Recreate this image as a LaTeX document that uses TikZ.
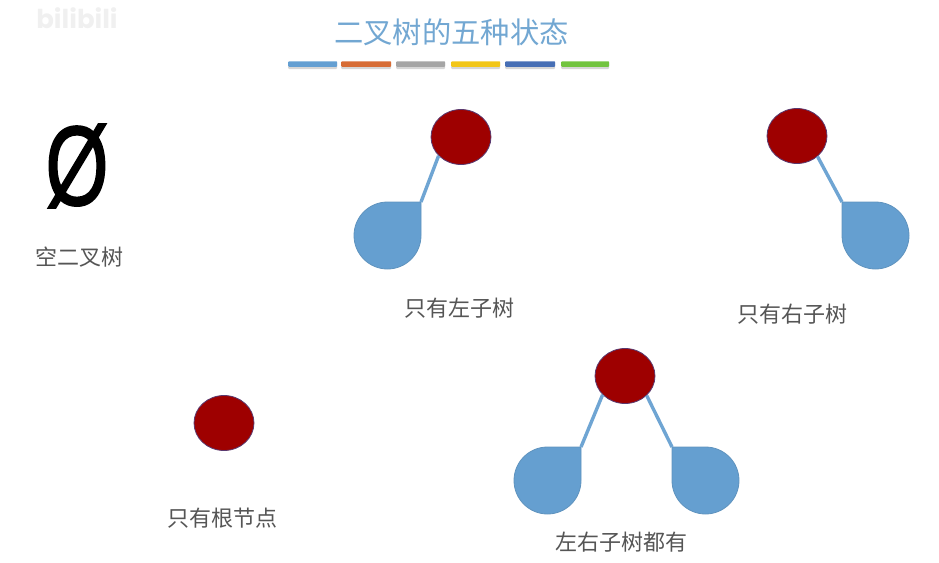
\documentclass[tikz,border=0pt]{standalone}
\usepackage{fontspec}
\setmainfont{Noto Sans CJK SC}
\newfontfamily\symfont[FakeBold=1.6]{Liberation Sans}
\newfontfamily\markfont{Poppins}
\definecolor{titleblue}{HTML}{72A7D2}
\definecolor{dropfill}{HTML}{659FD0}
\definecolor{dropedge}{HTML}{5F93BE}
\definecolor{linkblue}{HTML}{6FA5D3}
\definecolor{rootfill}{HTML}{9E0000}
\definecolor{rootedge}{HTML}{5A3A70}
\definecolor{labelgray}{HTML}{555555}
\definecolor{barblue}{HTML}{649FD2}
\definecolor{barorange}{HTML}{D76C35}
\definecolor{bargray}{HTML}{A5A5A5}
\definecolor{baryellow}{HTML}{F2C618}
\definecolor{bardark}{HTML}{476FB5}
\definecolor{bargreen}{HTML}{72C43F}
\usetikzlibrary{shapes.geometric}
\tikzset{
  rootnode/.style={ellipse,draw=rootedge,fill=rootfill,line width=0.8pt,minimum width=60pt,minimum height=55pt,inner sep=0pt},
  link/.style={draw=linkblue,line width=3.4pt},
  cap label/.style={text=labelgray,font=\fontsize{22}{22}\selectfont,inner sep=0pt},
  drop/.style={fill=dropfill,draw=dropedge,line width=0.8pt},
  bar/.style={minimum height=5.5pt,inner sep=0pt,rounded corners=0.8pt,anchor=west},
  barshadow/.style={fill=black!16,draw=none,rounded corners=1pt}
}
\newcommand{\dropleft}[1]{\path[drop] (#1) -- ++(0,33.5) arc[start angle=0,end angle=-270,radius=33.5pt] -- cycle;}
\newcommand{\dropright}[1]{\path[drop] (#1) -- ++(33.5,0) arc[start angle=90,end angle=-180,radius=33.5pt] -- cycle;}
\newcommand{\colorbar}[4]{%
  \fill[barshadow] (#1,62) rectangle (#2,69);
  \node[bar,fill=#3,minimum width=#4pt] at (#1,64) {};}
\begin{document}
\begin{tikzpicture}[x=1pt,y=-1pt]
\useasboundingbox (0,0) rectangle (939,562);
% watermark
\node[text=black!6,font=\markfont\bfseries\fontsize{26}{26}\selectfont,inner sep=0pt] (mark) at (77,18) {bilibili};
% title
\node[text=titleblue,font=\fontsize{29.3}{29.3}\selectfont,inner sep=0pt] (title) at (451.5,32) {二叉树的五种状态};
\colorbar{288}{337}{barblue}{49}
\colorbar{341}{391}{barorange}{50}
\colorbar{396}{445}{bargray}{49}
\colorbar{451}{500}{baryellow}{49}
\colorbar{505}{555}{bardark}{50}
\colorbar{561}{609}{bargreen}{48}
% empty
\node[text=black,font=\symfont\fontsize{113}{113}\selectfont,inner sep=0pt,xscale=0.72] (empty) at (77,166) {Ø};
\node[cap label] (l1) at (79.5,257) {空二叉树};
% left only
\coordinate (aL) at (421,202);
\dropleft{aL}
\node[rootnode] (a) at (461,137) {};
\draw[link] (a.-140) -- (aL);
\node[cap label] (l2) at (459.5,308) {只有左子树};
% right only
\coordinate (bR) at (842,202);
\dropright{bR}
\node[rootnode] (b) at (797,136) {};
\draw[link] (b.-45) -- (bR);
\node[cap label] (l3) at (792,314) {只有右子树};
% root only
\node[rootnode] (c) at (224,423) {};
\node[cap label] (l4) at (222.5,518) {只有根节点};
% both
\coordinate (dL) at (581,447);
\coordinate (dR) at (672,447);
\dropleft{dL}
\dropright{dR}
\node[rootnode] (d) at (625,376) {};
\draw[link] (d.-140) -- (dL);
\draw[link] (d.-42) -- (dR);
\node[cap label] (l5) at (621,542) {左右子树都有};
\end{tikzpicture}
\end{document}
